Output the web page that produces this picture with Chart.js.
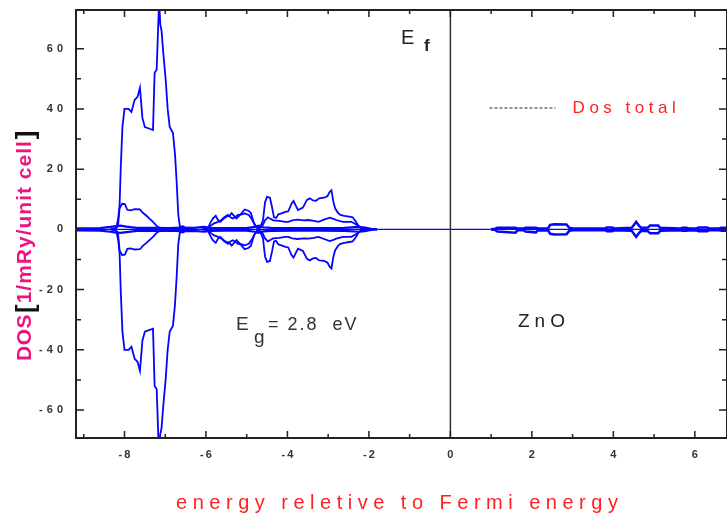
<!DOCTYPE html>
<html>
<head>
<meta charset="utf-8">
<script src="https://cdn.jsdelivr.net/npm/chart.js@4/dist/chart.umd.min.js"></script>
<style>
  html, body { margin: 0; padding: 0; background: #fff; }
  canvas { display: block; }
</style>
</head>
<body>
<canvas id="dos" width="727" height="517" style="width:727px;height:517px"></canvas>
<script>
// ZnO density of states, spin up plotted positive and spin down negative.

// Zn-d band (strong peak near -7 eV)
const energyZnD = [-8.35, -8.2, -8.15, -8.12, -8.09, -8.05, -8.0, -7.9, -7.83, -7.75, -7.68, -7.62, -7.56, -7.5, -7.4, -7.3,
  -7.26, -7.21, -7.15, -7.12, -7.09, -7.05, -6.99, -6.94, -6.89, -6.81, -6.76, -6.72, -6.68, -6.64, -6.55, -6.5];
const znDUp = [0, 0.5, 4, 8, 21, 34, 40, 40, 39, 43, 44, 47, 37, 34, 33.5, 33,
  52, 53, 76, 68, 66, 59, 50, 40, 34, 32, 25, 16, 5, 1, 1, 0];
const znDDown = [0, -0.5, -4, -8, -21, -34, -40, -40, -39, -43, -44, -47, -37, -34, -33.5, -33,
  -52, -53, -76, -68, -66, -59, -50, -40, -34, -32, -25, -16, -5, -1, -1, 0];

// weaker partial under the Zn-d band
const energyZnS = [-8.25, -8.16, -8.12, -8.06, -7.99, -7.93, -7.85, -7.75, -7.62, -7.55, -7.46, -7.38, -7.3, -7.2, -7.1, -6.9];
const znSUp = [0, 1, 7, 8.5, 8.4, 6.5, 6.3, 6.7, 6.6, 5.5, 4.5, 3.5, 2.5, 1, 0.3, 0];
const znSDown = [0, -1, -7, -8.5, -8.4, -6.5, -6.3, -6.7, -6.6, -5.5, -4.5, -3.5, -2.5, -1, -0.3, 0];

// O-p valence band, outer curve
const energyOA = [-6.1, -5.95, -5.88, -5.83, -5.76, -5.7, -5.65, -5.57, -5.5, -5.42,
  -5.37, -5.31, -5.25, -5.15, -5.05, -4.96, -4.9, -4.82, -4.75, -4.68,
  -4.6, -4.55, -4.5, -4.43, -4.38, -4.33, -4.28, -4.22, -4.15, -4.05,
  -3.98, -3.9, -3.85, -3.8, -3.74, -3.62, -3.52, -3.45, -3.37, -3.3,
  -3.22, -3.1, -3.02, -2.96, -2.92, -2.87, -2.83, -2.76, -2.7, -2.6,
  -2.48, -2.4, -2.33, -2.25, -2.17, -2.0];
const oAUp = [0, 0.5, 2.5, 3.6, 4.5, 3, 2.5, 3.5, 4.2, 4.5,
  5.4, 4.5, 3.6, 5, 6.6, 6.2, 5.5, 2, 0.5, 0.3,
  3, 9, 10.8, 10.5, 7.5, 4, 3.8, 5, 5.3, 5.8,
  6, 8.5, 9.4, 8, 6.4, 7.2, 9.8, 10.3, 9.6, 9.5,
  10.3, 10.5, 11, 12.5, 13, 9, 7, 5.5, 4.8, 4.5,
  4.2, 4, 2.8, 1, 0.3, 0];
const oADown = [0, -0.5, -2.5, -3.6, -4.5, -3, -2.5, -3.5, -4.2, -4.5,
  -5.4, -4.5, -3.6, -5, -6.6, -6.2, -5.5, -2, -0.5, -0.3,
  -3, -9, -10.8, -10.5, -7.5, -4, -3.8, -5, -5.3, -5.8,
  -6, -8.5, -9.4, -8, -6.4, -7.2, -9.8, -10.3, -9.6, -9.5,
  -10.3, -10.5, -11, -12.5, -13, -9, -7, -5.5, -4.8, -4.5,
  -4.2, -4, -2.8, -1, -0.3, 0];

// O-p valence band, inner curve
const energyOB = [-6.0, -5.9, -5.8, -5.7, -5.62, -5.55, -5.46, -5.4, -5.34, -5.27,
  -5.21, -5.12, -5.05, -4.95, -4.88, -4.8, -4.7, -4.62, -4.55, -4.48,
  -4.43, -4.35, -4.2, -4.05, -3.98, -3.88, -3.75, -3.6, -3.49, -3.35,
  -3.24, -3.1, -2.96, -2.87, -2.8, -2.64, -2.43, -2.3, -2.2, -2.05];
const oBUp = [0, 1, 2, 2.5, 3.1, 4, 4.8, 4, 3.6, 4.2,
  4.8, 5, 5.3, 4.8, 3.5, 1.5, 0.3, 1, 3, 4,
  3.6, 3, 2.8, 2.5, 2.5, 3, 3.2, 3, 3.1, 2.8,
  2.5, 3.2, 3.9, 3.5, 3.1, 2.5, 2.5, 1.5, 0.5, 0];
const oBDown = [0, -1, -2, -2.5, -3.1, -4, -4.8, -4, -3.6, -4.2,
  -4.8, -5, -5.3, -4.8, -3.5, -1.5, -0.3, -1, -3, -4,
  -3.6, -3, -2.8, -2.5, -2.5, -3, -3.2, -3, -3.1, -2.8,
  -2.5, -3.2, -3.9, -3.5, -3.1, -2.5, -2.5, -1.5, -0.5, 0];

// small partials hugging zero across the valence band
const energyVb = [-9.3, -8.6, -8.35, -8.25, -8.1, -7.95, -7.7, -7.3, -6.9, -6.6, -6.3, -6.05, -5.9,
  -5.5, -5.0, -4.8, -4.7, -4.6, -4.4, -3.8, -3.2, -2.6, -2.25, -2.1, -1.95, -1.8];
const vbUp = [0.3, 0.4, 0.8, 1.0, 1.2, 0.9, 0.5, 0.5, 0.4, 0.6, 0.5, 0.8, 0.5,
  0.4, 0.4, 0.8, 1.2, 0.7, 0.5, 0.4, 0.4, 0.5, 0.8, 0.6, 0.2, 0];
const vbDown = [-0.3, -0.4, -0.8, -1.0, -1.2, -0.9, -0.5, -0.5, -0.4, -0.6, -0.5, -0.8, -0.5,
  -0.4, -0.4, -0.8, -1.2, -0.7, -0.5, -0.4, -0.4, -0.5, -0.8, -0.6, -0.2, 0];

// conduction band
const energyCb = [1.0, 1.1, 1.15, 1.6, 1.65, 1.8, 1.84, 2.1, 2.15, 2.4, 2.45, 2.55, 2.85, 2.92, 3.0,
  3.8, 3.84, 3.97, 4.02, 4.45, 4.5, 4.56, 4.62, 4.68, 4.85, 4.9, 5.1, 5.15,
  5.65, 5.7, 5.8, 5.85, 6.05, 6.1, 6.3, 6.35, 6.6, 6.65, 6.9];
const cbUp = [0, 0.2, 0.5, 0.5, 0.3, 0.3, 0.5, 0.5, 0.3, 0.4, 1.5, 1.7, 1.6, 0.5, 0.3,
  0.3, 0.6, 0.6, 0.3, 0.5, 1.4, 2.5, 1.4, 0.5, 0.6, 1.3, 1.3, 0.5,
  0.3, 0.5, 0.5, 0.3, 0.4, 0.6, 0.6, 0.3, 0.3, 0.5, 0.5];
const cbDown = [0, -0.2, -0.7, -1.1, -0.3, -0.3, -0.7, -1.0, -0.3, -0.4, -1.5, -1.7, -1.6, -0.5, -0.3,
  -0.3, -0.6, -0.6, -0.3, -0.5, -1.4, -2.5, -1.4, -0.5, -0.6, -1.3, -1.3, -0.5,
  -0.3, -0.5, -0.5, -0.3, -0.4, -0.6, -0.6, -0.3, -0.3, -0.5, -0.5];

// zero line across the whole window
const energyZero = [-9.3, 6.9];
const zeroLine = [0, 0];

const xTicks = [-8, -6, -4, -2, 0, 2, 4, 6];
const xMinorTicks = [-9, -7, -5, -3, -1, 1, 3, 5];
const yTicks = [-60, -40, -20, 0, 20, 40, 60];
const yMinorTicks = [-50, -30, -10, 10, 30, 50];

const X_MIN = -9.19, X_MAX = 6.79;
const Y_MIN = -69.3, Y_MAX = 72.85;

const BLUE = "#0505ff";
const FONT = "'Liberation Sans', Arial, sans-serif";

function pts(xs, ys) {
  return xs.map((x, i) => ({ x: x, y: ys[i] }));
}

function curve(xs, ys, width) {
  return {
    data: pts(xs, ys),
    borderColor: BLUE,
    borderWidth: width || 1.8,
    pointRadius: 0,
    fill: false,
    tension: 0,
  };
}

function spacedText(ctx, str, x, y, font, color, spacing, align) {
  ctx.save();
  ctx.font = font;
  ctx.fillStyle = color;
  ctx.letterSpacing = (spacing || 0) + "px";
  ctx.textBaseline = "middle";
  let w = ctx.measureText(str).width;
  let left = x;
  if (align === "center") left = x - (w - (spacing || 0)) / 2;
  else if (align === "right") left = x - (w - (spacing || 0));
  ctx.textAlign = "left";
  ctx.fillText(str, left, y);
  ctx.restore();
  return left + w;
}

// axes frame, inward ticks, labels and the annotations
const framePlugin = {
  id: "frame",
  afterDraw(chart) {
    const ctx = chart.ctx;
    const a = chart.chartArea;
    const xs = chart.scales.x, ys = chart.scales.y;

    // Fermi level
    const x0 = xs.getPixelForValue(0);
    ctx.save();
    ctx.strokeStyle = "#333";
    ctx.lineWidth = 1.5;
    ctx.beginPath();
    ctx.moveTo(x0, a.top);
    ctx.lineTo(x0, a.bottom);
    ctx.stroke();

    // frame
    ctx.strokeStyle = "#222";
    ctx.lineWidth = 2;
    ctx.strokeRect(a.left, a.top, a.right - a.left, a.bottom - a.top);

    ctx.lineWidth = 1.5;
    ctx.beginPath();
    const tick = (vals, len) => {
      vals.forEach((v) => {
        const px = xs.getPixelForValue(v);
        ctx.moveTo(px, a.bottom); ctx.lineTo(px, a.bottom - len);
        ctx.moveTo(px, a.top); ctx.lineTo(px, a.top + len);
      });
    };
    const ytick = (vals, len) => {
      vals.forEach((v) => {
        const py = ys.getPixelForValue(v);
        ctx.moveTo(a.left, py); ctx.lineTo(a.left + len, py);
        ctx.moveTo(a.right, py); ctx.lineTo(a.right - len, py);
      });
    };
    tick(xTicks, 7); tick(xMinorTicks, 4);
    ytick(yTicks, 8); ytick(yMinorTicks, 5);
    ctx.stroke();
    ctx.restore();

    const tickFont = "bold 11px " + FONT;
    xTicks.forEach((v) => {
      spacedText(ctx, String(v), xs.getPixelForValue(v), a.bottom + 17, tickFont, "#333", 2, "center");
    });
    yTicks.forEach((v) => {
      spacedText(ctx, String(v), a.left - 13, ys.getPixelForValue(v), tickFont, "#333", 4, "right");
    });

    // E_f
    spacedText(ctx, "E", 401, 38, "20px " + FONT, "#222", 0, "left");
    spacedText(ctx, "f", 424, 46, "bold 17px " + FONT, "#222", 0, "left");

    // legend entry
    ctx.save();
    ctx.strokeStyle = "#222";
    ctx.lineWidth = 1;
    ctx.setLineDash([3, 2]);
    ctx.beginPath();
    ctx.moveTo(xs.getPixelForValue(0.96), ys.getPixelForValue(40.3));
    ctx.lineTo(xs.getPixelForValue(2.58), ys.getPixelForValue(40.3));
    ctx.stroke();
    ctx.restore();
    spacedText(ctx, "Dos total", xs.getPixelForValue(3.0), ys.getPixelForValue(40.3), "17px " + FONT, "#ff2020", 4.5, "left");

    // band gap
    spacedText(ctx, "E", 236, 325, "19px " + FONT, "#333", 0, "left");
    spacedText(ctx, "g", 254, 338, "19px " + FONT, "#333", 0, "left");
    spacedText(ctx, "= 2.8  eV", 268, 325, "18px " + FONT, "#333", 2, "left");

    spacedText(ctx, "ZnO", 518, 322, "19px " + FONT, "#222", 5, "left");

    // axis titles
    spacedText(ctx, "energy reletive to Fermi energy", 397, 503, "20px " + FONT, "#ff2020", 5.5, "center");

    ctx.save();
    ctx.translate(25, 361);
    ctx.rotate(-Math.PI / 2);
    let p = 0;
    p = spacedText(ctx, "DOS", p, 0, "bold 21px " + FONT, "#ee1480", 0.5, "left");
    p = spacedText(ctx, "[", p + 1, 2, "bold 26px " + FONT, "#111", 0, "left");
    p = spacedText(ctx, "1/mRy/unit cell", p + 1, 0, "bold 21px " + FONT, "#ee1480", 1, "left");
    spacedText(ctx, "]", p + 1, 2, "bold 26px " + FONT, "#111", 0, "left");
    ctx.restore();
  },
};

new Chart(document.getElementById("dos"), {
  type: "line",
  data: {
    datasets: [
      curve(energyZero, zeroLine, 1.2),
      curve(energyVb, vbUp, 2.2),
      curve(energyVb, vbDown, 2.2),
      curve(energyCb, cbUp, 2.5),
      curve(energyCb, cbDown, 2.5),
      curve(energyOB, oBUp),
      curve(energyOB, oBDown),
      curve(energyOA, oAUp),
      curve(energyOA, oADown),
      curve(energyZnS, znSUp),
      curve(energyZnS, znSDown),
      curve(energyZnD, znDUp),
      curve(energyZnD, znDDown),
    ],
  },
  options: {
    responsive: false,
    animation: false,
    layout: { padding: { top: 10, left: 0, right: 0, bottom: 0 } },
    plugins: { legend: { display: false }, tooltip: { enabled: false } },
    scales: {
      x: {
        type: "linear",
        min: X_MIN,
        max: X_MAX,
        grid: { display: false, drawTicks: false },
        border: { display: false },
        ticks: { display: false },
        afterFit(s) { s.height = 79; },
      },
      y: {
        type: "linear",
        min: Y_MIN,
        max: Y_MAX,
        grid: { display: false, drawTicks: false },
        border: { display: false },
        ticks: { display: false },
        afterFit(s) { s.width = 76; },
      },
    },
  },
  plugins: [framePlugin],
});
</script>
</body>
</html>
